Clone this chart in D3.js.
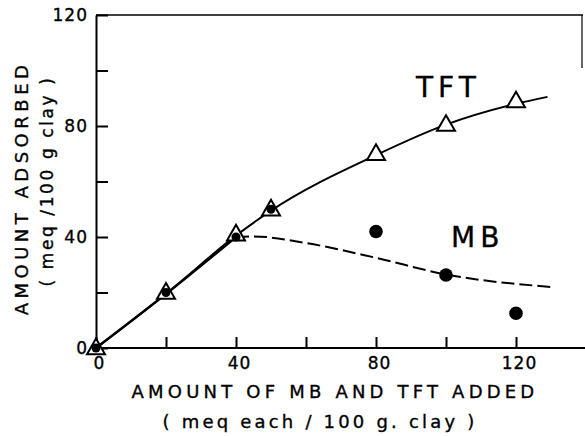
<!DOCTYPE html>
<html>
<head>
<meta charset="utf-8">
<script src="https://cdn.jsdelivr.net/npm/d3@7"></script>
<style>
  body { margin: 0; background: #fff; }
  text { font-family: "DejaVu Sans", sans-serif; fill: #000; stroke: #000; stroke-width: 0.35; }
</style>
</head>
<body>
<script>
// measured points
const tftX = [0, 20, 40, 50, 80, 100, 120];
const tftY = [0, 20, 41, 50, 70, 80.5, 89];
const mbX = [0, 20, 40, 50, 80, 100, 120];
const mbY = [0, 20, 40, 50, 42, 26.3, 12.5];

// drawn curves
const tftCurveX = [0, 20, 40, 50, 80, 100, 120, 129];
const tftCurveY = [0, 19.5, 40.5, 49.5, 69.5, 80.5, 88, 90.5];
const mbCurveX = [0, 20, 40];
const mbCurveY = [0, 19.5, 40];
const mbDashX = [40, 45, 60, 80, 100, 130];
const mbDashY = [40, 40.2, 37.8, 32.5, 26.5, 22];

const xTicks = [0, 20, 40, 60, 80, 100, 120];
const xTickLabels = ["0", "", "40", "", "80", "", "120"];
const yTicks = [0, 20, 40, 60, 80, 100, 120];
const yTickLabels = ["0", "", "40", "", "80", "", "120"];

const W = 585, H = 436;
const svg = d3.select("body").append("svg").attr("width", W).attr("height", H);

const x = d3.scaleLinear().domain([0, 140]).range([96, 586]);
const y = d3.scaleLinear().domain([0, 120]).range([348, 15]);

// top / right frame (right side only partly printed)
svg.append("line").attr("x1", x(0)).attr("x2", 583).attr("y1", y(120)).attr("y2", y(120))
  .attr("stroke", "#000").attr("stroke-width", 1.5);
svg.append("line").attr("x1", 582).attr("x2", 582).attr("y1", y(120)).attr("y2", 68)
  .attr("stroke", "#000").attr("stroke-width", 1.2);

// axes with inward ticks
const xAxis = svg.append("g")
  .attr("transform", `translate(0,${y(0)})`)
  .call(d3.axisBottom(x).tickValues(xTicks).tickSize(-11).tickSizeOuter(0)
    .tickPadding(9).tickFormat((d, i) => xTickLabels[i]));
const yAxis = svg.append("g")
  .attr("transform", `translate(${x(0)},0)`)
  .call(d3.axisLeft(y).tickValues(yTicks).tickSize(-12).tickSizeOuter(0)
    .tickPadding(8).tickFormat((d, i) => yTickLabels[i]));

[xAxis, yAxis].forEach(g => {
  g.select(".domain").attr("stroke-width", 2);
  g.selectAll(".tick line").attr("stroke", "#000").attr("stroke-width", 2);
  g.selectAll(".tick text").attr("font-size", 17).attr("letter-spacing", 1)
    .attr("font-family", "DejaVu Sans");
});
xAxis.selectAll(".tick text").attr("dx", 3);
xAxis.select(".domain").attr("d", `M${x(0)},0H${W}`);

// axis titles
svg.append("text").attr("x", 335).attr("y", 398).attr("text-anchor", "middle")
  .attr("font-size", 18).attr("letter-spacing", 4.2)
  .text("AMOUNT OF MB AND TFT ADDED");
svg.append("text").attr("x", 320).attr("y", 428).attr("text-anchor", "middle")
  .attr("font-size", 18).attr("letter-spacing", 3.2)
  .text("( meq each / 100 g. clay )");
svg.append("text").attr("transform", "translate(28,188) rotate(-90)")
  .attr("text-anchor", "middle").attr("font-size", 18).attr("letter-spacing", 4.5)
  .text("AMOUNT ADSORBED");
svg.append("text").attr("transform", "translate(53,181) rotate(-90)")
  .attr("text-anchor", "middle").attr("font-size", 17).attr("letter-spacing", 2.6)
  .text("( meq /100 g clay )");

// series labels
svg.append("text").attr("x", 416).attr("y", 97).attr("font-size", 28).attr("letter-spacing", 5).text("TFT");
svg.append("text").attr("x", 451).attr("y", 247).attr("font-size", 28).attr("letter-spacing", 5).text("MB");

// curves
const line = d3.line().x(d => x(d[0])).y(d => y(d[1])).curve(d3.curveMonotoneX);
svg.append("path").attr("d", line(d3.zip(tftCurveX, tftCurveY)))
  .attr("fill", "none").attr("stroke", "#000").attr("stroke-width", 2);
svg.append("path").attr("d", line(d3.zip(mbCurveX, mbCurveY)))
  .attr("fill", "none").attr("stroke", "#000").attr("stroke-width", 2.5);
svg.append("path").attr("d", line(d3.zip(mbDashX, mbDashY)))
  .attr("fill", "none").attr("stroke", "#000").attr("stroke-width", 2)
  .attr("stroke-dasharray", "13,5");

// markers
const tri = d3.symbol().type(d3.symbolTriangle).size(140);
svg.selectAll("path.tri").data(d3.zip(tftX, tftY)).join("path").attr("class", "tri")
  .attr("d", tri)
  .attr("transform", d => `translate(${x(d[0])},${y(d[1]) + 1})`)
  .attr("fill", "#fff").attr("stroke", "#000").attr("stroke-width", 2);
svg.selectAll("circle.dot").data(d3.zip(mbX, mbY)).join("circle").attr("class", "dot")
  .attr("cx", d => x(d[0])).attr("cy", d => y(d[1]))
  .attr("r", d => d[0] <= 50 ? 4.5 : 6.8)
  .attr("fill", "#000");
</script>
</body>
</html>
